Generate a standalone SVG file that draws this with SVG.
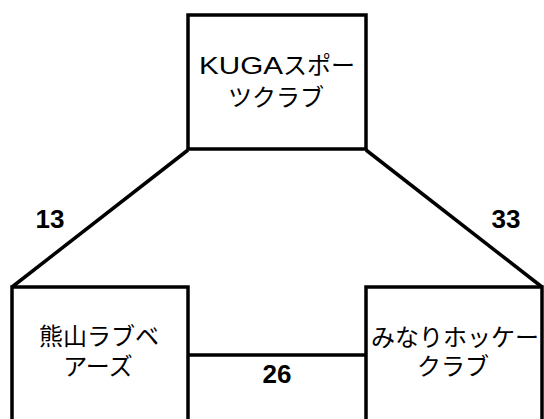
<svg xmlns="http://www.w3.org/2000/svg" width="544" height="419" viewBox="0 0 544 419">
<style>
.box{fill:#fff;stroke:#000;stroke-width:3.5}
.edge{stroke:#000;stroke-width:3.5;fill:none}
.lbl{font-family:"Liberation Sans","Noto Sans CJK JP",sans-serif;font-size:24px;fill:#000;text-anchor:middle}
.num{font-family:"Liberation Sans",Arial,sans-serif;font-size:26px;font-weight:bold;fill:#000;text-anchor:middle}
</style>
<rect width="544" height="419" fill="#fff"/>
<g id="connectors">
<line class="edge" x1="188" y1="150" x2="12" y2="287"/>
<line class="edge" x1="366" y1="150" x2="542" y2="287"/>
<line class="edge" x1="188" y1="355" x2="366" y2="355"/>
<text class="num" x="50" y="228">13</text>
<text class="num" x="506" y="228">33</text>
<text class="num" x="277" y="383">26</text>
</g>
<g id="node-kuga">
<rect class="box" x="188" y="15" width="178" height="134"/>
<text class="lbl" x="277" y="74"><tspan textLength="84" lengthAdjust="spacingAndGlyphs">KUGA</tspan>スポー</text>
<text class="lbl" x="276" y="106">ツクラブ</text>
</g>
<g id="node-kumayama">
<rect class="box" x="12" y="287" width="176" height="150"/>
<text class="lbl" x="99" y="345">熊山ラブベ</text>
<text class="lbl" x="98" y="375">アーズ</text>
</g>
<g id="node-minari">
<rect class="box" x="366" y="287" width="176" height="150"/>
<text class="lbl" x="455" y="346">みなりホッケー</text>
<text class="lbl" x="453" y="375">クラブ</text>
</g>
</svg>
